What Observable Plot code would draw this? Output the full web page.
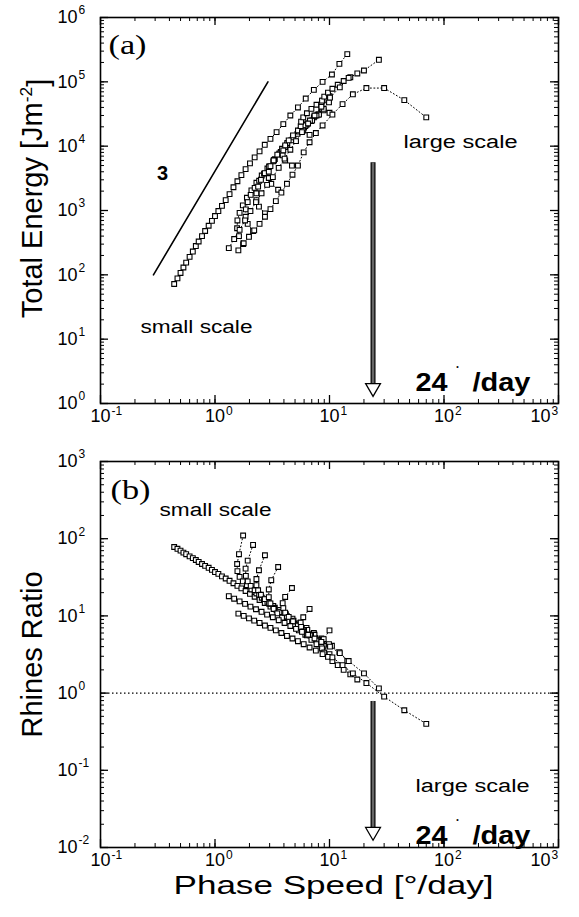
<!DOCTYPE html>
<html><head><meta charset="utf-8">
<script src="https://cdn.jsdelivr.net/npm/d3@7"></script>
<script src="https://cdn.jsdelivr.net/npm/@observablehq/plot@0.6"></script>
<style>
body{margin:0;background:#fff;}
#chart{width:579px;height:917px;}
#chart svg{display:block;}
</style></head><body><div id="chart"></div>
<script>
const seriesNames = ["s1","s2","s3","s4","s5","s6","s7","s8","s9","s10"];
const phaseSpeed = [
  [0.44,0.47,0.50,0.53,0.56,0.60,0.64,0.68,0.72,0.77,0.82,0.88,0.94,1.00,1.07,1.15,1.24,1.34,1.45,1.57,1.70,1.85,2.02,2.22,2.45,2.72,3.05,3.45,3.95,4.55,5.30,6.20,7.30,8.70,10.5,12.2,14.3],
  [1.76,1.62,1.56,1.57,1.64,1.75,1.9,2.08,2.3,2.56,2.87,3.23,3.66,4.16,4.75,5.45,6.3,7.3,8.5,9.9],
  [2.15,1.93,1.85,1.86,1.93,2.05,2.22,2.43,2.68,2.98,3.33,3.75,4.25,4.85,5.55,6.4,7.4,8.6],
  [2.73,2.42,2.3,2.3,2.38,2.52,2.72,2.97,3.28,3.65,4.1,4.62,5.25,6.0,6.9,7.95],
  [3.56,3.1,2.95,2.95,3.05,3.25,3.5,3.85,4.28,4.8,5.4,6.15,7.05,8.1],
  [4.7,4.1,3.9,3.95,4.1,4.4,4.8,5.3,5.95,6.75,7.7,8.9],
  [6.7,5.9,5.6,5.65,5.9,6.35,6.95,7.7,8.7,10.0],
  [10,8.9,8.5,8.6,9.0,9.7,10.6,11.8,13.3,15.2,17.5],
  [1.32,1.47,1.64,1.83,2.04,2.28,2.55,2.85,3.2,3.6,4.05,4.55,5.1,5.75,6.5,7.4,8.5,10.1,12.3,14.7,20,27],
  [1.6,1.78,1.98,2.2,2.45,2.73,3.05,3.4,3.8,4.25,4.75,5.3,5.95,6.7,7.6,8.7,10.6,13,16,21,30,45,70]
];
const totalEnergy = [
  [72,88,107,130,155,190,230,280,330,400,480,580,690,820,980,1180,1450,1800,2300,2850,3550,4400,5400,6700,8300,10500,13000,16500,22000,30000,40000,55000,75000,100000,130000,190000,270000],
  [300,400,530,700,920,1200,1580,2050,2700,3500,4500,5800,7500,9700,12600,16500,21500,28000,37000,48000],
  [480,620,800,1040,1350,1750,2250,2900,3750,4850,6300,8100,10500,13500,17500,22500,29000,38000],
  [900,1150,1450,1850,2350,3000,3800,4800,6100,7700,9700,12300,15500,19500,24500,31000],
  [2100,2600,3200,4000,4900,6000,7400,9100,11200,13700,16800,20500,25000,31000],
  [5000,6000,7200,8600,10300,12300,14700,17500,21000,25000,30000,36000],
  [15000,17500,20500,24000,28000,32500,38000,44000,51000,60000],
  [33000,38000,44000,51000,59000,68000,78000,90000,103000,118000,135000],
  [260,360,500,700,980,1350,1850,2500,3300,4600,6400,8800,12000,16500,22500,30000,41000,57000,82000,115000,150000,220000],
  [240,310,390,490,620,800,1050,1400,1900,2600,3600,5000,8000,11500,16000,21000,31000,45000,64000,80000,80000,52000,28000]
];
const rhinesRatio = [
  [78,74,70,66,63,59,56,53,50,47,44.5,42,39.5,37,35,32.5,30.5,28.5,26.5,24.5,22.7,21,19.3,17.7,16.1,14.7,13.2,11.8,10.4,9.1,7.9,6.8,5.8,4.9,4.1,3.4,2.6],
  [110,63,47,38,32,28,25,22,19.5,17.2,15.2,13.5,11.9,10.5,9.2,8.0,7.0,6.0,5.1,4.3],
  [83,52,41,33,28,24.5,21.5,18.8,16.5,14.5,12.8,11.2,9.9,8.7,7.6,6.6,5.7,4.9],
  [61,39,30,25,21.5,18.8,16.5,14.5,12.7,11.2,9.8,8.6,7.5,6.5,5.6,4.8],
  [43,29,22,17.5,14.5,12.3,10.8,9.5,8.4,7.4,6.5,5.7,5.0,4.3],
  [23,17.6,14.6,12.6,11,9.7,8.5,7.5,6.5,5.6,4.8,4.1],
  [12.3,9.6,8.2,7.2,6.3,5.6,4.9,4.3,3.7,3.2],
  [6.5,5.0,4.3,3.8,3.35,2.95,2.6,2.3,2.0,1.75,1.5],
  [18,16.7,15.4,14.3,13.2,12.2,11.3,10.4,9.6,8.8,8.1,7.4,6.8,6.2,5.7,5.1,4.6,4.0,3.3,2.6,1.8,1.15],
  [10.7,10.0,9.3,8.7,8.1,7.5,7.0,6.5,6.0,5.5,5.1,4.7,4.3,3.9,3.55,3.2,2.9,2.3,1.8,1.35,0.9,0.6,0.4]
];
const xTickExponents = [-1,0,1,2,3];
const energyTickExponents = [0,1,2,3,4,5,6];
const rhinesTickExponents = [-2,-1,0,1,2,3];
const slopeSpeed = [0.29, 2.9];
const slopeEnergy = [100, 100000];
const arrowSpeed = 24;
const arrowA = {top: 5500, head: 1.75};
const arrowB = {top: 0.78, head: 0.016};
const refRatio = 1;

const rowsFor = vals => phaseSpeed.flatMap((cs, i) => cs.map((c, j) => ({series: seriesNames[i], c, v: vals[i][j]})));
const rowsA = rowsFor(totalEnergy);
const rowsB = rowsFor(rhinesRatio);
const slopeRows = slopeSpeed.map((c, i) => ({c, v: slopeEnergy[i]}));

function minorTicks(lo, hi) { const t = []; for (let e = lo; e < hi; e++) for (let m = 1; m <= 9; m++) t.push(m * 10 ** e); t.push(10 ** hi); return t; }
const W = 579, ML = 100, MR = 21;
const frameW = W - ML - MR;
const sans = "Liberation Sans, Arial, Helvetica, sans-serif";

function frameMarks(yExps, frameH) {
  const xMin = minorTicks(-1, 3), yMin = minorTicks(yExps[0], yExps[yExps.length - 1]);
  const xMaj = xTickExponents.map(e => 10 ** e), yMaj = yExps.map(e => 10 ** e);
  const xIn = xTickExponents.slice(0, -1), xLast = xTickExponents.slice(-1);
  return [
    Plot.tickX(xMin, {x: d => d, insetTop: frameH - 4, strokeWidth: 1}),
    Plot.tickX(xMin, {x: d => d, insetBottom: frameH - 4, strokeWidth: 1}),
    Plot.tickX(xMaj, {x: d => d, insetTop: frameH - 8, strokeWidth: 1.3}),
    Plot.tickX(xMaj, {x: d => d, insetBottom: frameH - 8, strokeWidth: 1.3}),
    Plot.tickY(yMin, {y: d => d, insetRight: frameW - 4, strokeWidth: 1}),
    Plot.tickY(yMin, {y: d => d, insetLeft: frameW - 4, strokeWidth: 1}),
    Plot.tickY(yMaj, {y: d => d, insetRight: frameW - 8, strokeWidth: 1.3}),
    Plot.tickY(yMaj, {y: d => d, insetLeft: frameW - 8, strokeWidth: 1.3}),
    Plot.frame({stroke: "black", strokeWidth: 1.6}),
    Plot.text(xIn, {x: e => 10 ** e, frameAnchor: "bottom", dy: 18, dx: 10, textAnchor: "end", text: () => "10", fontSize: 18}),
    Plot.text(xIn, {x: e => 10 ** e, frameAnchor: "bottom", dy: 11, dx: 11, textAnchor: "start", text: e => String(e), fontSize: 12}),
    Plot.text(xLast, {x: e => 10 ** e, frameAnchor: "bottom", dy: 18, dx: -8, textAnchor: "end", text: () => "10", fontSize: 18}),
    Plot.text(xLast, {x: e => 10 ** e, frameAnchor: "bottom", dy: 11, dx: -7, textAnchor: "start", text: e => String(e), fontSize: 12}),
    Plot.text(yExps, {y: e => 10 ** e, frameAnchor: "left", dx: -23, textAnchor: "end", text: () => "10", fontSize: 18}),
    Plot.text(yExps, {y: e => 10 ** e, frameAnchor: "left", dx: -22, dy: -7, textAnchor: "start", text: e => String(e), fontSize: 12})
  ];
}
function dataMarks(rows) {
  return [
    Plot.line(rows, {x: "c", y: "v", z: "series", stroke: "black", strokeWidth: 1, strokeDasharray: "1 2.5"}),
    Plot.dot(rows, {x: "c", y: "v", symbol: "square", r: 2.7, stroke: "black", fill: "white", strokeWidth: 1.1})
  ];
}
function arrowMarks(top, head, lift) {
  return [
    Plot.ruleX([arrowSpeed], {x: d => d, y1: () => top, y2: () => head, stroke: "black", strokeWidth: 5}),
    Plot.ruleX([arrowSpeed], {x: d => d, y1: () => top, y2: () => head, stroke: "#666", strokeWidth: 2.6}),
    Plot.dot([arrowSpeed], {x: d => d, y: () => head, symbol: "triangle", rotate: 180, r: 5.5, fill: "white", stroke: "black", strokeWidth: 1.3}),
    Plot.text(["24"], {frameAnchor: "bottom-right", dx: -111, dy: -lift, textAnchor: "end", lineAnchor: "bottom", fontWeight: "bold", fontSize: 26}),
    Plot.text(["•"], {frameAnchor: "bottom-right", dx: -101, dy: -lift - 22, textAnchor: "middle", lineAnchor: "bottom", fontSize: 7}),
    Plot.text(["/day"], {frameAnchor: "bottom-right", dx: -28, dy: -lift, textAnchor: "end", lineAnchor: "bottom", fontWeight: "bold", fontSize: 26})
  ];
}

const hA = 437, topA = 17, botA = 403;
const frameHA = botA - topA;
const plotA = Plot.plot({
  width: W, height: hA, marginLeft: ML, marginRight: MR, marginTop: topA, marginBottom: hA - botA,
  x: {type: "log", domain: [0.1, 1000], axis: null},
  y: {type: "log", domain: [1, 1e6], axis: null},
  style: {fontFamily: sans, background: "white", color: "black"},
  marks: [
    ...frameMarks(energyTickExponents, frameHA),
    Plot.line(slopeRows, {x: "c", y: "v", stroke: "black", strokeWidth: 1.6}),
    ...dataMarks(rowsA),
    ...arrowMarks(arrowA.top, arrowA.head, 13),
    Plot.text(["(a)"], {frameAnchor: "top-left", dx: 8, dy: 17, textAnchor: "start", fontSize: 27, fontFamily: "Liberation Serif, serif"}),
    Plot.text(["3"], {frameAnchor: "top-left", dx: 62, dy: 148, textAnchor: "middle", fontWeight: "bold", fontSize: 20}),
    Plot.text(["small scale"], {frameAnchor: "top-left", dx: 96, dy: 303, textAnchor: "middle", fontSize: 18}),
    Plot.text(["large scale"], {frameAnchor: "top-left", dx: 360, dy: 118, textAnchor: "middle", fontSize: 18}),
    Plot.text(["Total Energy [Jm-2]"], {frameAnchor: "left", dx: -68, dy: -12, rotate: -90, textAnchor: "middle", fontSize: 29})
  ]
});

const hB = 480, topB = 24, botB = 410;
const frameHB = botB - topB;
const plotB = Plot.plot({
  width: W, height: hB, marginLeft: ML, marginRight: MR, marginTop: topB, marginBottom: hB - botB,
  x: {type: "log", domain: [0.1, 1000], axis: null},
  y: {type: "log", domain: [0.01, 1000], axis: null},
  style: {fontFamily: sans, background: "white", color: "black"},
  marks: [
    ...frameMarks(rhinesTickExponents, frameHB),
    Plot.ruleY([refRatio], {y: d => d, stroke: "black", strokeWidth: 1.1, strokeDasharray: "1.5 2.5"}),
    ...dataMarks(rowsB),
    ...arrowMarks(arrowB.top, arrowB.head, 4),
    Plot.text(["(b)"], {frameAnchor: "top-left", dx: 10, dy: 18, textAnchor: "start", fontSize: 27, fontFamily: "Liberation Serif, serif"}),
    Plot.text(["small scale"], {frameAnchor: "top-left", dx: 115, dy: 42, textAnchor: "middle", fontSize: 18}),
    Plot.text(["large scale"], {frameAnchor: "top-left", dx: 372, dy: 318, textAnchor: "middle", fontSize: 18}),
    Plot.text(["Rhines Ratio"], {frameAnchor: "left", dx: -68, rotate: -90, textAnchor: "middle", fontSize: 29}),
    Plot.text(["Phase Speed [°/day]"], {frameAnchor: "bottom", dx: 4, dy: 46, fontSize: 26})
  ]
});

const host = document.getElementById("chart");
host.appendChild(plotA);
host.appendChild(plotB);

// text refinements: superscripts and horizontal stretch as in the reference
const stretch = {"Phase Speed [°/day]": 320, "small scale": 112, "large scale": 114, "24": 32, "/day": 58, "(a)": 38, "(b)": 40};
for (const svg of [plotA, plotB]) {
  svg.querySelectorAll("text").forEach(t => {
    const s = t.textContent;
    if (s === "Total Energy [Jm-2]") {
      t.textContent = "";
      const sel = d3.select(t);
      sel.append("tspan").text("Total Energy [Jm");
      sel.append("tspan").attr("dy", "-0.55em").attr("font-size", "0.6em").text("-2");
      sel.append("tspan").attr("dy", "0.55em").text("]");
    } else if (stretch[s]) {
      t.setAttribute("textLength", stretch[s]);
      t.setAttribute("lengthAdjust", "spacingAndGlyphs");
    }
  });
}
</script></body></html>
